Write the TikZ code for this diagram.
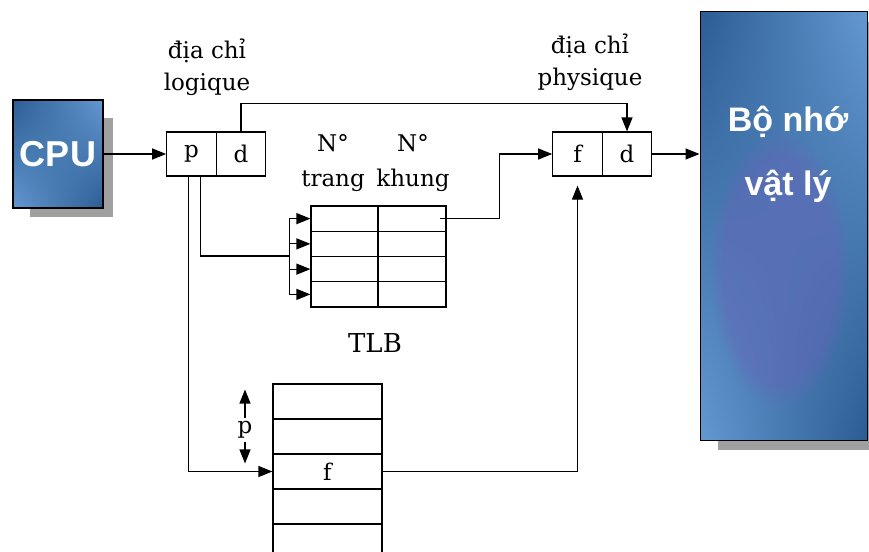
\documentclass[tikz,border=0pt]{standalone}
\usepackage{fontspec}
\setmainfont{DejaVu Serif}
\newfontfamily\boxfont{Liberation Sans}
\usetikzlibrary{arrows.meta,positioning,calc,fadings,shadings}
\definecolor{bDark}{RGB}{44,92,148}
\definecolor{bLight}{RGB}{100,152,208}
\definecolor{bViolet}{RGB}{108,96,186}
\definecolor{shadowGray}{RGB}{160,160,160}

\begin{document}
\begin{tikzpicture}[x=1pt,y=-1pt,line width=1.2pt,
    conn/.style={-{Triangle[length=14pt,width=11pt]}},
    cell/.style={draw, minimum width=49.5pt, minimum height=44pt, inner sep=0pt, font=\fontsize{23}{26}\selectfont},
    tcell/.style={draw, minimum height=25.25pt, inner sep=0pt},
    prow/.style={draw, minimum width=109pt, minimum height=35pt, inner sep=0pt, font=\fontsize{23}{26}\selectfont},
    lbl/.style={align=center, font=\fontsize{23}{32}\selectfont},
    blocktxt/.style={text=white, align=center, font=\boxfont\bfseries\fontsize{34}{64}\selectfont},
    blueshade/.style={shade, upper left=bDark, upper right=bLight, lower left=bLight, lower right=bDark}]
    \useasboundingbox (0,0) rectangle (869,551);
    \clip (0,0) rectangle (869,551);

    % CPU
    \fill[shadowGray] (30,118) rectangle (113,217);
    \node[draw, line width=1.5pt, minimum width=90pt, minimum height=108pt, blueshade,
          blocktxt, font=\boxfont\bfseries\fontsize{36}{40}\selectfont] (cpu) at (58,154) {CPU};

    % physical memory
    \fill[shadowGray] (718,22) rectangle (880,450);
    \node[draw, line width=1pt, minimum width=167pt, minimum height=428pt, blueshade] (mem) at (783.5,226) {};
    \fill[bViolet, opacity=0.4, path fading=circle with fuzzy edge 20 percent] (780,270) ellipse (70 and 140);
    \node[blocktxt] (memtxt) at (788,154) {Bộ nhớ\\vật lý};

    % logical address
    \node[cell] (lp) at (191.5,154) {p};
    \node[cell] (ld) at (241,154) {d};
    \node[lbl] (lname) at (207,67) {địa chỉ\\logique};

    % physical address
    \node[cell] (pf) at (577.5,154) {f};
    \node[cell] (pd) at (627,154) {d};
    \node[lbl] (pname) at (590,62) {địa chỉ\\physique};

    % TLB
    \foreach \r in {1,...,4} {
      \node[tcell, minimum width=67pt] (t\r1) at (344.5,{206+25.25*(\r-0.5)}) {};
      \node[tcell, minimum width=68pt] (t\r2) at (412,{206+25.25*(\r-0.5)}) {};
      \coordinate (c\r) at ($(t\r1.west)+(-21,0)$);
    }
    \node[lbl, font=\fontsize{23}{35}\selectfont] (tpage) at (333,163) {N°\\trang};
    \node[lbl, font=\fontsize{23}{35}\selectfont] (tframe) at (413,163) {N°\\khung};
    \node[lbl, font=\fontsize{26}{30}\selectfont] (tlbname) at (375,343) {TLB};

    % page table
    \foreach \r/\t in {1/{},2/{},3/f,4/{},5/{}}
      \node[prow] (pt\r) at (327.5,{384+35*(\r-0.5)}) {\t};
    \node[lbl] (pmark) at (245,430) {p};
    \draw[conn] (pmark.north) -- ++(0,-28);
    \draw[conn] (pmark.south) -- ++(0,21);

    % connectors
    \draw[conn] (cpu.east) -- (lp.west);
    \draw[conn] (ld.north) -- ++(0,-28) -| (pd.north);
    \draw[conn] (pd.east) -- (mem.west |- pd.east);
    \draw ([xshift=9pt]lp.south) |- (c1 |- t31.north);
    \draw (c1) -- (c4);
    \foreach \r in {1,...,4}
      \draw[conn] (c\r) -- (t\r1.west);
    \draw[conn] ([xshift=-7pt]t12.east) -- ++(60,0) |- (pf.west);
    \draw[conn] ([xshift=-3pt]lp.south) |- (pt3.west);
    \draw[conn, shorten >=9pt] (pt3.east) -| (pf.south);
  \end{tikzpicture}
\end{document}
